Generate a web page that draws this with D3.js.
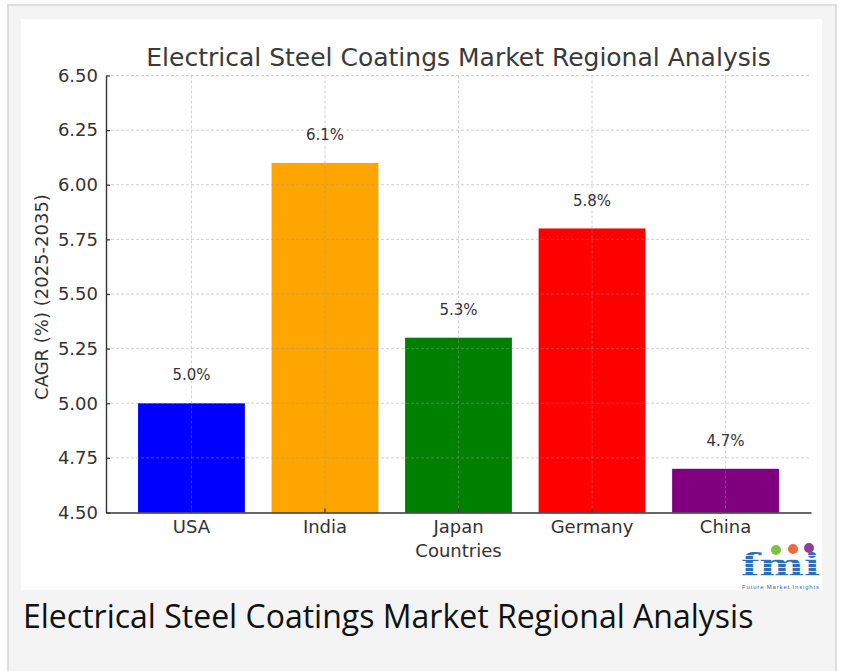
<!DOCTYPE html>
<html>
<head>
<meta charset="utf-8">
<script src="https://cdn.jsdelivr.net/npm/d3@7"></script>
<style>
  body { margin: 0; background: #fff; }
  svg { display: block; }
</style>
</head>
<body>
<div id="chart"></div>
<script>
const categories = ['USA', 'India', 'Japan', 'Germany', 'China'];
const cagrValues = [5.0, 6.1, 5.3, 5.8, 4.7];
const barColors = ['blue', 'orange', 'green', 'red', 'purple'];
const yTicks = [4.5, 4.75, 5.0, 5.25, 5.5, 5.75, 6.0, 6.25, 6.5];

const W = 841, H = 671;
const plot = { left: 106, right: 811, top: 75.5, bottom: 512.5 };

const svg = d3.select('#chart').append('svg')
  .attr('width', W)
  .attr('height', H);

// page frame + white chart panel
svg.append('rect').attr('x', 8).attr('y', 5).attr('width', 828).attr('height', 672)
  .attr('fill', '#f4f4f4').attr('stroke', '#dedede').attr('stroke-width', 2);
svg.append('rect').attr('x', 21).attr('y', 19).attr('width', 801).attr('height', 571)
  .attr('fill', '#fff');

const x = d3.scaleBand()
  .domain(categories)
  .range([plot.left, plot.right])
  .paddingInner(0.2)
  .paddingOuter(0.24);

const y = d3.scaleLinear()
  .domain([4.5, 6.5])
  .range([plot.bottom, plot.top]);

const data = categories.map((c, i) => ({ key: c, value: cagrValues[i], color: barColors[i] }));

// bars
svg.append('g').selectAll('rect')
  .data(data)
  .enter().append('rect')
  .attr('x', d => x(d.key))
  .attr('y', d => y(d.value))
  .attr('width', x.bandwidth())
  .attr('height', d => plot.bottom - y(d.value))
  .attr('fill', d => d.color);

// grid on top of the bars
const grid = svg.append('g')
  .attr('stroke', '#9a9a9a')
  .attr('stroke-opacity', 0.45)
  .attr('stroke-width', 1)
  .attr('stroke-dasharray', '3,2');

grid.selectAll('.hgrid')
  .data(yTicks.slice(1))
  .enter().append('line')
  .attr('x1', plot.left).attr('x2', plot.right)
  .attr('y1', d => y(d)).attr('y2', d => y(d));

grid.selectAll('.vgrid')
  .data(categories)
  .enter().append('line')
  .attr('x1', d => x(d) + x.bandwidth() / 2).attr('x2', d => x(d) + x.bandwidth() / 2)
  .attr('y1', plot.top).attr('y2', plot.bottom);

// axes
const xAxis = svg.append('g')
  .attr('transform', `translate(0, ${plot.bottom})`)
  .call(d3.axisBottom(x).tickSizeInner(-4).tickSizeOuter(0).tickPadding(8));

const yAxis = svg.append('g')
  .attr('transform', `translate(${plot.left}, 0)`)
  .call(d3.axisLeft(y).tickValues(yTicks).tickFormat(d3.format('.2f'))
    .tickSizeInner(-4).tickSizeOuter(0).tickPadding(8));

[xAxis, yAxis].forEach(ax => {
  ax.select('.domain').attr('stroke', '#333').attr('stroke-width', 1.4);
  ax.selectAll('.tick line').attr('stroke', '#333').attr('stroke-width', 1.2);
  ax.selectAll('.tick text')
    .attr('fill', '#333')
    .style('font-family', '"DejaVu Sans", sans-serif')
    .style('font-size', '18px');
});

// value labels
svg.append('g').selectAll('text')
  .data(data)
  .enter().append('text')
  .attr('x', d => x(d.key) + x.bandwidth() / 2)
  .attr('y', d => y(d.value + 0.1) - 1)
  .attr('text-anchor', 'middle')
  .attr('fill', '#333')
  .style('font-family', '"DejaVu Sans", sans-serif')
  .style('font-size', '15px')
  .text(d => d.value.toFixed(1) + '%');

// titles
svg.append('text')
  .attr('x', (plot.left + plot.right) / 2)
  .attr('y', 66)
  .attr('text-anchor', 'middle')
  .attr('fill', '#3a3a3a')
  .style('font-family', '"DejaVu Sans", sans-serif')
  .style('font-size', '25px')
  .text('Electrical Steel Coatings Market Regional Analysis');

svg.append('text')
  .attr('x', (plot.left + plot.right) / 2)
  .attr('y', 557)
  .attr('text-anchor', 'middle')
  .attr('fill', '#333')
  .style('font-family', '"DejaVu Sans", sans-serif')
  .style('font-size', '18px')
  .text('Countries');

svg.append('text')
  .attr('transform', `translate(48, ${(plot.top + plot.bottom) / 2 + 3}) rotate(-90)`)
  .attr('text-anchor', 'middle')
  .attr('fill', '#333')
  .style('font-family', '"DejaVu Sans", sans-serif')
  .style('font-size', '18px')
  .text('CAGR (%) (2025-2035)');

// fmi logo
const logo = svg.append('g');
const defs = svg.append('defs');
const pat = defs.append('pattern').attr('id', 'stripes')
  .attr('patternUnits', 'userSpaceOnUse').attr('width', 4).attr('height', 4);
pat.append('rect').attr('width', 4).attr('height', 4).attr('fill', '#2d6fb7');
pat.append('rect').attr('y', 3).attr('width', 4).attr('height', 1).attr('fill', '#cfe0f2');

logo.append('text')
  .attr('x', 741).attr('y', 576)
  .attr('fill', 'url(#stripes)')
  .style('font-family', '"DejaVu Serif", serif')
  .style('font-weight', 'bold')
  .style('font-size', '32px')
  .attr('textLength', 79)
  .attr('lengthAdjust', 'spacingAndGlyphs')
  .text('fmi');
[['#7cc143', 776, 550], ['#f26a3b', 793, 549], ['#8e3f98', 809, 548]].forEach(([c, cx, cy]) => {
  logo.append('circle').attr('cx', cx).attr('cy', cy).attr('r', 5).attr('fill', c);
});
logo.append('text')
  .attr('x', 742).attr('y', 589)
  .attr('fill', '#3a5f9a')
  .attr('textLength', 77)
  .style('font-family', '"Liberation Sans", sans-serif')
  .style('font-size', '6px')
  .text('Future Market Insights');

// caption under the panel
svg.append('text')
  .attr('x', 23)
  .attr('y', 628)
  .attr('fill', '#111')
  .style('font-family', '"Open Sans", sans-serif')
  .style('font-size', '32px')
  .text('Electrical Steel Coatings Market Regional Analysis');
</script>
</body>
</html>
